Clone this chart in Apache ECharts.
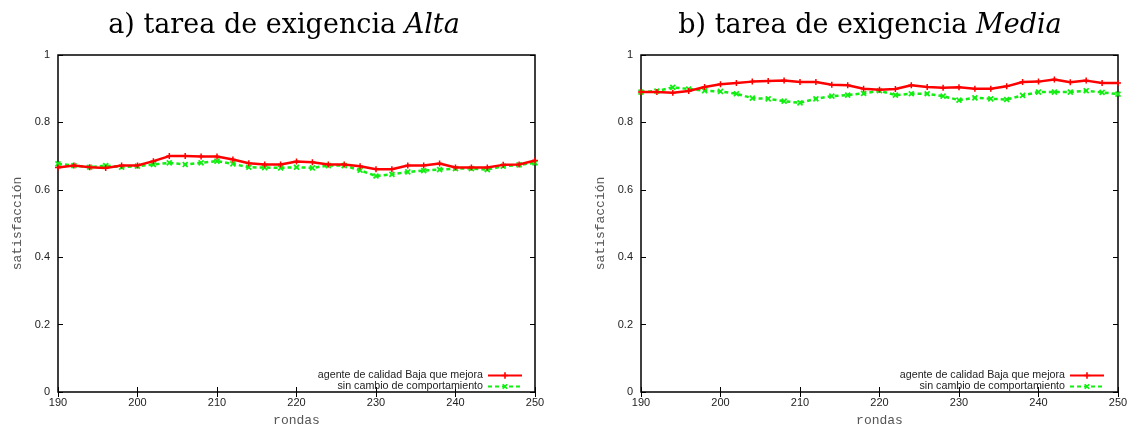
<!DOCTYPE html>
<html>
<head>
<meta charset="utf-8">
<script src="https://cdn.jsdelivr.net/npm/echarts@6/dist/echarts.min.js"></script>
<style>
  html, body { margin: 0; padding: 0; background: #fff; }
  #chart { width: 1132px; height: 432px; }
</style>
</head>
<body>
<div id="chart"></div>
<script>
// rondas (eje x), un punto cada 2 rondas
const rondas = [190, 192, 194, 196, 198, 200, 202, 204, 206, 208, 210, 212, 214, 216, 218, 220,
  222, 224, 226, 228, 230, 232, 234, 236, 238, 240, 242, 244, 246, 248, 250];

// a) tarea de exigencia Alta
const altaMejora = [0.666, 0.672, 0.667, 0.665, 0.672, 0.672, 0.685, 0.700, 0.700, 0.699, 0.699,
  0.690, 0.679, 0.675, 0.675, 0.684, 0.682, 0.675, 0.675, 0.670, 0.661, 0.661, 0.672, 0.672,
  0.678, 0.666, 0.666, 0.666, 0.674, 0.675, 0.687];
const altaSinCambio = [0.677, 0.672, 0.667, 0.672, 0.667, 0.670, 0.675, 0.680, 0.675, 0.680, 0.685,
  0.677, 0.667, 0.666, 0.665, 0.667, 0.665, 0.672, 0.672, 0.658, 0.641, 0.646, 0.653, 0.657,
  0.660, 0.663, 0.663, 0.660, 0.670, 0.674, 0.680];

// b) tarea de exigencia Media
const mediaMejora = [0.890, 0.890, 0.888, 0.893, 0.905, 0.913, 0.917, 0.921, 0.923, 0.924, 0.920,
  0.920, 0.912, 0.910, 0.900, 0.897, 0.899, 0.910, 0.905, 0.903, 0.904, 0.900, 0.900, 0.907,
  0.920, 0.921, 0.927, 0.919, 0.924, 0.917, 0.917];
const mediaSinCambio = [0.890, 0.893, 0.904, 0.899, 0.894, 0.892, 0.885, 0.872, 0.870, 0.863, 0.858,
  0.870, 0.878, 0.881, 0.886, 0.894, 0.881, 0.885, 0.885, 0.878, 0.866, 0.873, 0.870, 0.868,
  0.880, 0.890, 0.890, 0.890, 0.894, 0.889, 0.884];

const nameA = 'agente de calidad Baja que mejora';
const nameB = 'sin cambio de comportamiento';

const RED = '#ff0000';
const GREEN = '#11ee11';
const plus = 'path://M3,0H5V3H8V5H5V8H3V5H0V3H3Z';

const chart = echarts.init(document.getElementById('chart'));

const grids = [
  { left: 58, right: 597, top: 55, bottom: 36 },
  { left: 641, right: 14, top: 55, bottom: 36 }
];

const labelFont = { fontFamily: 'Liberation Sans', fontSize: 11, color: '#222' };
const monoName = { fontFamily: 'Liberation Mono', fontSize: 13, color: '#555' };

const xAxes = [];
const yAxes = [];
grids.forEach((g, i) => {
  // inferior con etiquetas
  xAxes.push({
    type: 'value', gridIndex: i, min: 190, max: 250, interval: 10,
    name: 'rondas', nameLocation: 'middle', nameGap: 22, nameTextStyle: monoName,
    axisLine: { show: false }, splitLine: { show: false },
    axisTick: { inside: true, length: 5, lineStyle: { color: '#000' } },
    axisLabel: Object.assign({ margin: 5 }, labelFont)
  });
  // espejo superior
  xAxes.push({
    type: 'value', gridIndex: i, position: 'top', min: 190, max: 250, interval: 10,
    axisLine: { show: false }, splitLine: { show: false }, axisLabel: { show: false },
    axisTick: { inside: true, length: 5, lineStyle: { color: '#000' } }
  });
  yAxes.push({
    type: 'value', gridIndex: i, min: 0, max: 1, interval: 0.2,
    name: 'satisfacción', nameLocation: 'middle', nameGap: 34, nameTextStyle: monoName,
    axisLine: { show: false }, splitLine: { show: false },
    axisTick: { inside: true, length: 5, lineStyle: { color: '#000' } },
    axisLabel: Object.assign({ margin: 8, formatter: v => String(Math.round(v * 10) / 10) }, labelFont)
  });
  yAxes.push({
    type: 'value', gridIndex: i, position: 'right', min: 0, max: 1, interval: 0.2,
    axisLine: { show: false }, splitLine: { show: false }, axisLabel: { show: false },
    axisTick: { inside: true, length: 5, lineStyle: { color: '#000' } }
  });
});

function pares(vals) {
  return rondas.map((r, k) => [r, vals[k]]);
}

function serieRoja(vals, i) {
  return {
    name: nameA, type: 'line', xAxisIndex: i * 2, yAxisIndex: i * 2,
    data: pares(vals), symbol: plus, symbolSize: 6, showSymbol: true,
    lineStyle: { color: RED, width: 2.5 }, itemStyle: { color: RED },
    emphasis: { disabled: true }, z: 3
  };
}
function serieVerde(vals, i) {
  return {
    name: nameB, type: 'line', xAxisIndex: i * 2, yAxisIndex: i * 2,
    data: pares(vals), symbol: plus, symbolSize: 7, symbolRotate: 45, showSymbol: true,
    lineStyle: { color: GREEN, width: 2.5, type: [4, 3] }, itemStyle: { color: GREEN },
    emphasis: { disabled: true }, z: 2
  };
}

function leyenda(name, right, top) {
  return {
    data: [name], right: right, top: top, align: 'right', orient: 'vertical',
    itemWidth: 34, itemHeight: 8, itemGap: 0, padding: 0, selectedMode: false,
    textStyle: { fontFamily: 'Liberation Sans', fontSize: 10.7, color: '#222' }
  };
}

const titulo = (left, letra, palabra) => ({
  left: left, top: 7, textAlign: 'center',
  text: '{n|' + letra + ') tarea de exigencia }{i|' + palabra + '}',
  textStyle: {
    fontWeight: 'normal',
    rich: {
      n: { fontFamily: 'DejaVu Serif', fontSize: 27, fontWeight: 'normal', color: '#000' },
      i: { fontFamily: 'DejaVu Serif', fontSize: 27, fontWeight: 'normal', fontStyle: 'italic', color: '#000' }
    }
  }
});

chart.setOption({
  animation: false,
  title: [titulo(279, 'a', 'Alta'), titulo(865, 'b', 'Media')],
  legend: [
    leyenda(nameA, 609, 370),
    leyenda(nameB, 609, 381),
    leyenda(nameA, 27, 370),
    leyenda(nameB, 27, 381)
  ],
  grid: grids.map(g => Object.assign({ show: true, borderColor: '#000', borderWidth: 1.5, backgroundColor: 'transparent' }, g)),
  xAxis: xAxes,
  yAxis: yAxes,
  series: [
    serieRoja(altaMejora, 0), serieVerde(altaSinCambio, 0),
    serieRoja(mediaMejora, 1), serieVerde(mediaSinCambio, 1)
  ]
});
</script>
</body>
</html>
